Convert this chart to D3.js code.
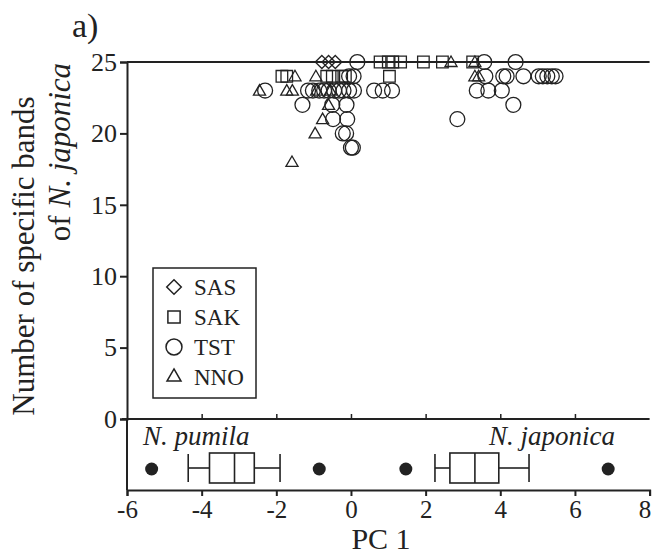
<!DOCTYPE html>
<html>
<head>
<meta charset="utf-8">
<script src="https://cdn.jsdelivr.net/npm/d3@7"></script>
<style>
  body { margin: 0; background: #fff; }
  svg text { font-family: "Liberation Serif", "Times New Roman", serif; fill: #222; }
</style>
</head>
<body>
<div id="chart"></div>
<script>
const W = 654, H = 555;

// scatter data: PC1 score vs number of N. japonica specific bands
const sasX = [-0.78, -0.6, -0.42];
const sasY = [25, 25, 25];
const sakX = [0.78, 1.0, 1.12, 1.33, 1.94, 2.45, 3.26, -1.85, -1.72, -0.65, -0.5, -0.25, -0.15, 1.03];
const sakY = [25, 25, 25, 25, 25, 25, 25, 24, 24, 24, 24, 24, 24, 24];
const tstX = [0.17, 3.57, 4.41,
  -0.05, 0.07, 3.6, 4.08, 4.17, 4.62, 5.03, 5.14, 5.26, 5.38, 5.48,
  -2.3, -1.15, -1.02, -0.85, -0.72, -0.6, -0.45, -0.32, -0.2, -0.05, 0.08, 0.62, 0.85, 1.1, 3.37, 3.68, 4.04,
  -1.3, -0.5, -0.12, 4.35,
  -0.48, -0.1, 2.85,
  -0.22, -0.13,
  0.0, 0.05];
const tstY = [25, 25, 25,
  24, 24, 24, 24, 24, 24, 24, 24, 24, 24, 24,
  23, 23, 23, 23, 23, 23, 23, 23, 23, 23, 23, 23, 23, 23, 23, 23, 23,
  22, 22, 22, 22,
  21, 21, 21,
  20, 20,
  19, 19];
const nnoX = [2.68, 3.32, -1.5, -0.94, 3.32, 3.42, -2.45, -1.72, -1.57, -0.92, -0.55, -0.6, -0.76, -0.96, -1.58];
const nnoY = [25, 25, 24, 24, 24, 24, 23, 23, 23, 23, 23, 22, 21, 20, 18];

const groups = ["SAS", "SAK", "TST", "NNO"];

// box plot summaries along PC1
const species = ["N. pumila", "N. japonica"];
const whiskLo = [-4.36, 2.25];
const q1 = [-3.79, 2.65];
const med = [-3.12, 3.32];
const q3 = [-2.59, 3.96];
const whiskHi = [-1.9, 4.77];
const outliers = [[-5.34, -0.85], [1.47, 6.89]];

const xTicks = [-6, -4, -2, 0, 2, 4, 6, 8];
const yTicks = [0, 5, 10, 15, 20, 25];

const svg = d3.select("#chart").append("svg")
  .attr("width", W).attr("height", H);
svg.append("rect").attr("width", W).attr("height", H).attr("fill", "#fff");

const pLeft = 127, pRight = 649.6, pTop = 62, pMid = 419, pBot = 490;
const x = d3.scaleLinear().domain([-6, 8]).range([pLeft, pRight]);
const y = d3.scaleLinear().domain([0, 25]).range([pMid, pTop]);

const ink = "#222";

// frame line at top
svg.append("line").attr("x1", pLeft).attr("x2", pRight).attr("y1", pTop).attr("y2", pTop)
  .attr("stroke", ink).attr("stroke-width", 2);

// y axis
const yAxis = svg.append("g").attr("transform", `translate(${pLeft},0)`)
  .call(d3.axisLeft(y).tickValues(yTicks).tickSize(7).tickPadding(3));
yAxis.select(".domain").attr("stroke", ink).attr("stroke-width", 2);
yAxis.selectAll(".tick line").attr("stroke", ink).attr("stroke-width", 2);
yAxis.selectAll(".tick text").attr("font-size", 26).attr("fill", ink)
  .attr("font-family", "Liberation Serif");

// divider between panels with inward ticks
const midAxis = svg.append("g").attr("transform", `translate(0,${pMid})`)
  .call(d3.axisTop(x).tickValues(xTicks.slice(1, -1)).tickSize(5).tickFormat(""));
midAxis.select(".domain").remove();
midAxis.selectAll(".tick line").attr("stroke", ink).attr("stroke-width", 1.5);
svg.append("line").attr("x1", pLeft - 5).attr("x2", pRight).attr("y1", pMid).attr("y2", pMid)
  .attr("stroke", ink).attr("stroke-width", 2);

// lower panel left border
svg.append("line").attr("x1", pLeft).attr("x2", pLeft).attr("y1", pMid).attr("y2", pBot)
  .attr("stroke", ink).attr("stroke-width", 2);

// x axis
const xAxis = svg.append("g").attr("transform", `translate(0,${pBot})`)
  .call(d3.axisBottom(x).tickValues(xTicks).tickSize(6).tickPadding(4)
    .tickFormat(d => d < 0 ? "-" + (-d) : d));
xAxis.select(".domain").attr("stroke", ink).attr("stroke-width", 2);
xAxis.selectAll(".tick line").attr("stroke", ink).attr("stroke-width", 2);
xAxis.selectAll(".tick text").attr("font-size", 25).attr("fill", ink)
  .attr("font-family", "Liberation Serif")
  .attr("dx", d => d === 8 ? -5 : 0);

// axis titles
svg.append("text").attr("x", 381).attr("y", 549)
  .attr("text-anchor", "middle").attr("font-size", 30).text("PC 1");

const yl = svg.append("text").attr("transform", "rotate(-90)")
  .attr("text-anchor", "middle").attr("font-size", 31);
yl.append("tspan").attr("x", -256).attr("y", 34).text("Number of specific bands");
const yl2 = yl.append("tspan").attr("x", -152).attr("y", 70);
yl2.append("tspan").text("of ");
yl2.append("tspan").attr("font-style", "italic").text("N. japonica");

svg.append("text").attr("x", 72).attr("y", 37).attr("font-size", 34).text("a)");

// marker shapes
const shapes = {
  SAS: d3.symbol(d3.symbolDiamond2, 110),
  SAK: d3.symbol(d3.symbolSquare2, 170),
  TST: d3.symbol(d3.symbolCircle, 175),
  NNO: d3.symbol(d3.symbolTriangle2, 105)
};
const legShapes = {
  SAS: d3.symbol(d3.symbolDiamond2, 135),
  SAK: d3.symbol(d3.symbolSquare2, 190),
  TST: d3.symbol(d3.symbolCircle, 200),
  NNO: d3.symbol(d3.symbolTriangle2, 140)
};

const pts = [];
sasX.forEach((v, i) => pts.push({ g: "SAS", x: v, y: sasY[i] }));
sakX.forEach((v, i) => pts.push({ g: "SAK", x: v, y: sakY[i] }));
tstX.forEach((v, i) => pts.push({ g: "TST", x: v, y: tstY[i] }));
nnoX.forEach((v, i) => pts.push({ g: "NNO", x: v, y: nnoY[i] }));

svg.append("g").selectAll("path").data(pts).join("path")
  .attr("transform", d => `translate(${x(d.x)},${y(d.y) + (d.g === "NNO" ? 1 : 0)})`)
  .attr("d", d => shapes[d.g]())
  .attr("fill", "none").attr("stroke", ink).attr("stroke-width", 1.3);

// legend
const leg = svg.append("g");
leg.append("rect").attr("x", 153).attr("y", 268).attr("width", 103).attr("height", 130)
  .attr("fill", "#fff").attr("stroke", ink).attr("stroke-width", 1.5);
const legRow = d3.scalePoint().domain(groups).range([287, 377]);
groups.forEach(g => {
  leg.append("path").attr("transform", `translate(174,${legRow(g)})`)
    .attr("d", legShapes[g]()).attr("fill", "none").attr("stroke", ink).attr("stroke-width", 1.5);
  leg.append("text").attr("x", 194).attr("y", legRow(g)).attr("dy", "0.35em")
    .attr("font-size", 23).text(g);
});

// box plots
const by = 468, bh = 30, cap = 14;
const bp = svg.append("g").attr("stroke", ink).attr("stroke-width", 1.6);
species.forEach((s, i) => {
  bp.append("line").attr("x1", x(whiskLo[i])).attr("x2", x(q1[i])).attr("y1", by).attr("y2", by);
  bp.append("line").attr("x1", x(q3[i])).attr("x2", x(whiskHi[i])).attr("y1", by).attr("y2", by);
  bp.append("line").attr("x1", x(whiskLo[i])).attr("x2", x(whiskLo[i])).attr("y1", by - cap).attr("y2", by + cap);
  bp.append("line").attr("x1", x(whiskHi[i])).attr("x2", x(whiskHi[i])).attr("y1", by - cap).attr("y2", by + cap);
  bp.append("rect").attr("x", x(q1[i])).attr("width", x(q3[i]) - x(q1[i]))
    .attr("y", by - bh / 2).attr("height", bh).attr("fill", "none");
  bp.append("line").attr("x1", x(med[i])).attr("x2", x(med[i])).attr("y1", by - bh / 2).attr("y2", by + bh / 2);
  outliers[i].forEach(o => {
    svg.append("circle").attr("cx", x(o)).attr("cy", by + 1).attr("r", 6.5).attr("fill", ink);
  });
});

svg.append("text").attr("x", 143).attr("y", 445).attr("font-size", 27)
  .attr("font-style", "italic").text(species[0]);
svg.append("text").attr("x", 615).attr("y", 445).attr("font-size", 27)
  .attr("text-anchor", "end").attr("font-style", "italic").text(species[1]);
</script>
</body>
</html>
